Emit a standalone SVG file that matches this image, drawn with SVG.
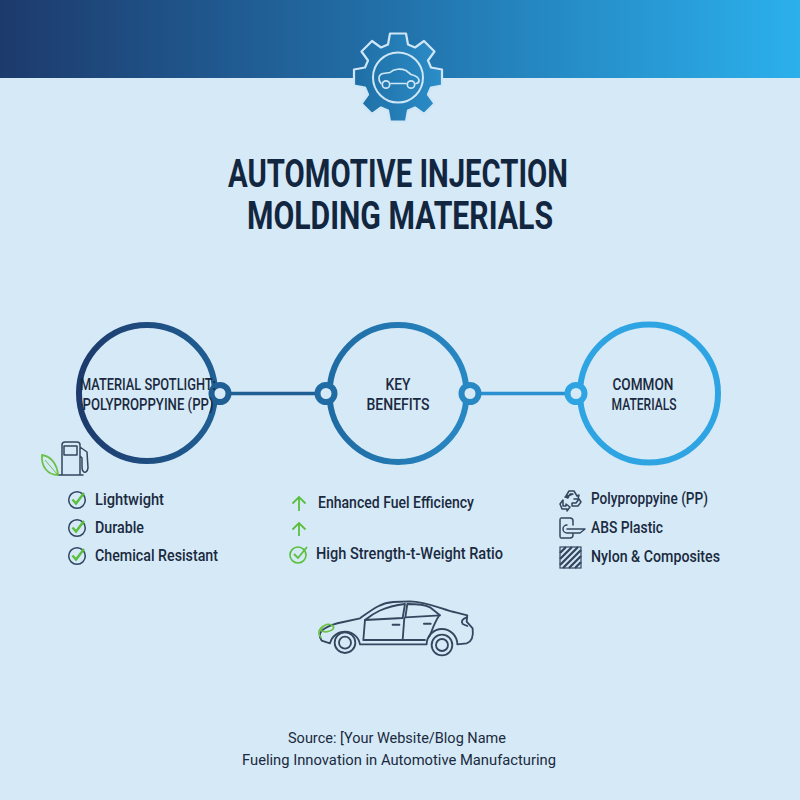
<svg xmlns="http://www.w3.org/2000/svg" width="800" height="800" viewBox="0 0 800 800">
<style>
text{font-family:"Roboto","Liberation Sans",sans-serif;fill:#1a2a40}
.title{font-size:38px;font-weight:700;fill:#12263f}
.cap{font-size:17px;font-weight:500}
.item{font-size:17px;font-weight:500}
.foot{font-size:15.5px;font-weight:400}
.chk{fill:none;stroke:#5abf3c;stroke-width:2.4}
.ring{fill:none;stroke:#2f4560;stroke-width:1.5}
.ico{fill:none;stroke:#33475f;stroke-width:1.5;stroke-linejoin:round;stroke-linecap:round}
.conn{fill:#d6e9f7;stroke-width:6}
</style>
<defs>
<linearGradient id="hdr" x1="0" x2="1" y1="0" y2="0"><stop offset="0" stop-color="#1d3a6c"/><stop offset="0.5" stop-color="#2272ab"/><stop offset="1" stop-color="#2bb0ec"/></linearGradient>
<linearGradient id="c1" x1="0" x2="1" y1="0" y2="0"><stop offset="0" stop-color="#1d3a6c"/><stop offset="1" stop-color="#1f5f94"/></linearGradient>
<linearGradient id="c2" x1="0" x2="1" y1="0" y2="0"><stop offset="0" stop-color="#1f6ba3"/><stop offset="1" stop-color="#2888c4"/></linearGradient>
<linearGradient id="gear" x1="0" x2="1" y1="0" y2="0"><stop offset="0" stop-color="#1f6ea5"/><stop offset="1" stop-color="#2b8dc8"/></linearGradient>
<g id="check"><circle class="ring" r="8.300"/><path class="chk" d="M-4.500 -0.500L-1 3.500L7 -7"/></g>
</defs>
<rect width="800" height="800" fill="#d6e9f7"/>
<rect width="800" height="78" fill="url(#hdr)"/>
<g id="gear-icon" transform="translate(398 77.500)">
<path d="M-10 -33L-8 -44L8 -44L10 -33L17 -30L26 -36.500L36.500 -26L30 -17L33 -10L44 -8L44 8L33 10L30 17L36.500 26L26 36.500L17 30L10 33L8 44L-8 44L-10 33L-17 30L-26 36.500L-36.500 26L-30 17L-33 10L-44 8L-44 -8L-33 -10L-30 -17L-36.500 -26L-26 -36.500L-17 -30Z" fill="url(#gear)" stroke="#cfe6f6" stroke-width="2.200" stroke-linejoin="round"/>
<circle r="25" fill="none" stroke="#cfe6f6" stroke-width="2"/>
<path d="M-17 6C-20 3 -20 -3 -15 -4L-8 -5C-4 -9 3 -9 8 -7L13 -3C17 -2 21 0 21 3C21 5 20 6 18 6M8 6L-7 6" fill="none" stroke="#cfe6f6" stroke-width="1.700" stroke-linecap="round"/>
<circle cx="-12" cy="7" r="3.700" fill="none" stroke="#cfe6f6" stroke-width="1.700"/>
<circle cx="13" cy="7" r="3.700" fill="none" stroke="#cfe6f6" stroke-width="1.700"/>
</g>
<g id="title">
<text class="title" x="398" y="187" text-anchor="middle" textLength="340" lengthAdjust="spacingAndGlyphs">AUTOMOTIVE INJECTION</text>
<text class="title" x="400" y="229" text-anchor="middle" textLength="306" lengthAdjust="spacingAndGlyphs">MOLDING MATERIALS</text>
</g>
<g id="connectors">
<line x1="228" y1="393.500" x2="318" y2="393.500" stroke="#1f5f94" stroke-width="3.500"/>
<line x1="478" y1="393.500" x2="568" y2="393.500" stroke="#2a90cf" stroke-width="3.500"/>
</g>
<g id="node-spotlight">
<circle cx="147" cy="393" r="68" fill="none" stroke="url(#c1)" stroke-width="6"/>
<circle class="conn" cx="220" cy="393.500" r="8.500" stroke="#1f5f94"/>
<text class="cap" x="148" y="390" text-anchor="middle" textLength="136" lengthAdjust="spacingAndGlyphs">MATERIAL SPOTLIGHT:</text>
<text class="cap" x="148" y="410" text-anchor="middle" textLength="131" lengthAdjust="spacingAndGlyphs">POLYPROPPYINE (PP)</text>
</g>
<g id="node-benefits">
<circle cx="398" cy="393.500" r="68.500" fill="none" stroke="url(#c2)" stroke-width="6"/>
<circle class="conn" cx="326" cy="393.500" r="8.500" stroke="#1f6ba3"/>
<circle class="conn" cx="470" cy="393.500" r="8.500" stroke="#2888c4"/>
<text class="cap" x="398" y="390" text-anchor="middle" textLength="25" lengthAdjust="spacingAndGlyphs">KEY</text>
<text class="cap" x="398" y="410" text-anchor="middle" textLength="63" lengthAdjust="spacingAndGlyphs">BENEFITS</text>
</g>
<g id="node-materials">
<circle cx="649" cy="393.500" r="69" fill="none" stroke="#2ea4e3" stroke-width="6"/>
<circle class="conn" cx="576" cy="393.500" r="8.500" stroke="#2ea4e3"/>
<text class="cap" x="643" y="390" text-anchor="middle" textLength="61" lengthAdjust="spacingAndGlyphs">COMMON</text>
<text class="cap" x="644" y="410" text-anchor="middle" textLength="65" lengthAdjust="spacingAndGlyphs">MATERIALS</text>
</g>
<g id="fuel-icon">
<path d="M42 455C50 456 57 463 58 475C48 475 41 467 42 455Z" fill="none" stroke="#6cc24a" stroke-width="1.800" stroke-linejoin="round"/>
<path d="M45 460L57 474" fill="none" stroke="#6cc24a" stroke-width="1"/>
<path class="ico" d="M62 474L62 445Q62 442 65 442L77 442Q80 442 80 445L80 474M59 475L83 475M64 446L77 446L77 455L64 455ZM80 447L87 452L88 468Q87 473 84 472Q82 471 82 467L82 458L80 456"/>
</g>
<g id="list-spotlight">
<use href="#check" x="77" y="500"/>
<use href="#check" x="77" y="528"/>
<use href="#check" x="77" y="556"/>
<text class="item" x="95" y="505" textLength="69" lengthAdjust="spacingAndGlyphs">Lightwight</text>
<text class="item" x="95" y="533" textLength="49" lengthAdjust="spacingAndGlyphs">Durable</text>
<text class="item" x="95" y="561" textLength="123" lengthAdjust="spacingAndGlyphs">Chemical Resistant</text>
</g>
<g id="list-benefits">
<path d="M299 511L299 497M292.500 503.500L299 497L305.500 503.500M299 536L299 523M292.500 529.500L299 523L305.500 529.500" fill="none" stroke="#5abf3c" stroke-width="1.800"/>
<circle cx="298" cy="555" r="8" fill="none" stroke="#5abf3c" stroke-width="1.600"/>
<path d="M294 554L298 558L307 547" fill="none" stroke="#5abf3c" stroke-width="1.800"/>
<text class="item" x="318" y="508" textLength="156" lengthAdjust="spacingAndGlyphs">Enhanced Fuel Efficiency</text>
<text class="item" x="316" y="559" textLength="187" lengthAdjust="spacingAndGlyphs">High Strength-t-Weight Ratio</text>
</g>
<g id="list-materials">
<path class="ico" stroke-width="1.200" d="M566 496L569 491L574 491L577 496L579 495L578 499L574 499M573 494L570 494L568 498L565 497ZM563 500L560 504L562 509L567 509L567 511L570 507L566 504L566 506L563 506ZM572 506L578 506L581 502L579 499L576 503L572 503Z"/>
<path class="ico" d="M561 518L570 518Q573 518 573 521L573 525M573 533L573 535Q573 538 570 538L561 538Q560 538 560 536L560 520Q560 518 561 518M567 525A4 4 0 0 0 567 533L580 533L585 529L567 529"/>
<rect x="560" y="547" width="21" height="21" fill="#d6e9f7" stroke="#33475f" stroke-width="1.200"/>
<path d="M560 553L566 547M560 559L572 547M560 565L578 547M563 568L581 550M569 568L581 556M575 568L581 562" stroke="#33475f" stroke-width="2.400" fill="none"/>
<text class="item" x="591" y="504" textLength="117" lengthAdjust="spacingAndGlyphs">Polyproppyine (PP)</text>
<text class="item" x="591" y="533" textLength="72" lengthAdjust="spacingAndGlyphs">ABS Plastic</text>
<text class="item" x="591" y="562" textLength="129" lengthAdjust="spacingAndGlyphs">Nylon &amp; Composites</text>
</g>
<g id="car" transform="translate(310 590) scale(.3333)" fill="none" stroke="#33475f" stroke-width="5.500" stroke-linejoin="round" stroke-linecap="round">
<path d="M30 142C24 122 50 106 100 96L150 85C185 60 212 38 250 36L300 34C350 34 400 60 440 68L472 76L470 95L488 115C491 140 485 155 470 160L442 163A46 46 0 0 0 350 163L150 163A46 46 0 0 0 60 160L35 152Z"/>
<path d="M165 90C190 70 220 50 285 42L278 84ZM292 42C320 42 345 44 360 52L390 76L286 82Z"/>
<path d="M165 90L160 150L345 150M283 84L278 150M388 76C372 100 365 125 358 140"/>
<path d="M248 104L268 104M342 101L362 101" stroke-width="6"/>
<path d="M470 82Q450 90 458 102L472 108"/>
<circle cx="105" cy="158" r="31"/><circle cx="105" cy="158" r="18"/>
<circle cx="396" cy="165" r="31"/><circle cx="396" cy="165" r="18"/>
<path d="M33 142C20 128 28 112 48 104C62 100 74 108 70 116C62 126 42 128 33 122C34 114 40 108 48 104" stroke="#6cc24a" stroke-width="5"/>
</g>
<g id="footer">
<text class="foot" x="397" y="743" text-anchor="middle" textLength="218" lengthAdjust="spacingAndGlyphs">Source: [Your Website/Blog Name</text>
<text class="foot" x="399" y="765" text-anchor="middle" textLength="314" lengthAdjust="spacingAndGlyphs">Fueling Innovation in Automotive Manufacturing</text>
</g>
</svg>
